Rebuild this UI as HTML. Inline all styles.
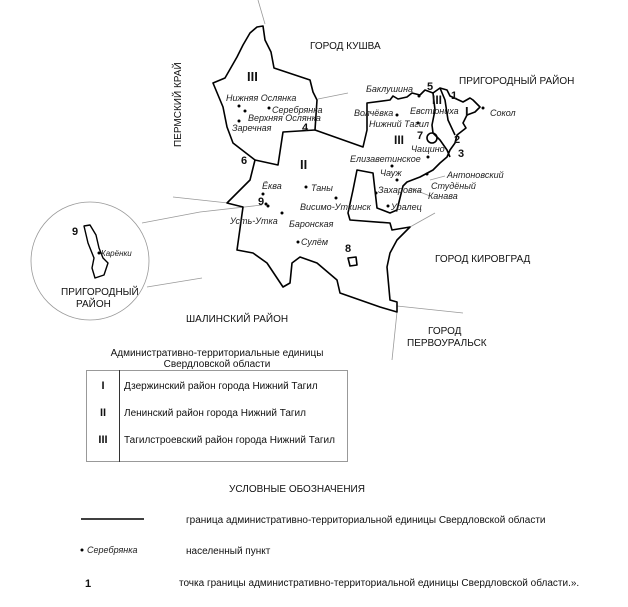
<!DOCTYPE html>
<html><head><meta charset="utf-8"><style>
html,body{margin:0;padding:0;background:#fff;}
svg{display:block;font-family:"Liberation Sans",sans-serif;}
.p{font-style:italic;font-size:9px;fill:#222;}
.r{font-size:10px;fill:#111;}
.b{font-weight:bold;font-size:11px;fill:#111;}
.l{font-size:10px;fill:#111;}
</style></head><body>
<svg width="628" height="607" viewBox="0 0 628 607">
<g stroke="#999" stroke-width="0.8" fill="none">
<line x1="258" y1="0" x2="265" y2="24"/>
<line x1="318" y1="99" x2="348" y2="93"/>
<line x1="410" y1="227" x2="435" y2="213"/>
<line x1="397" y1="306" x2="463" y2="313"/>
<line x1="397" y1="312" x2="392" y2="360"/>
<line x1="142" y1="223" x2="200" y2="212"/>
<line x1="200" y1="212" x2="262" y2="205"/>
<line x1="173" y1="197" x2="228" y2="203"/>
<line x1="147" y1="287" x2="202" y2="278"/>
<line x1="430" y1="180" x2="445" y2="176"/>
<line x1="410" y1="188" x2="430" y2="196"/>
<circle cx="90" cy="261" r="59"/>
</g>
<g stroke="#000" stroke-width="1.6" fill="none" stroke-linejoin="round">
<path d="M257,27 L263,26 L265,40 L271,52 L274,68 L310,80 L313,92 L317,100 L315,130 L363,147 L367,130 L367,103 L390,100 L393,96 L398,99 L407,97 L412,93 L420,95 L425,90 L433,93 L440,88 L447,90 L450,96 L463,102 L470,98 L473,100 L480,107 L475,112 L467,115 L463,123 L466,128 L457,135 L455,143 L450,150 L447,157 L440,163 L433,170 L420,177 L407,182 L403,186 L397,210 L390,213 L377,208 L373,173 L357,170 L353,190 L348,213 L350,220 L390,223 L392,230 L410,227 L397,240 L390,253 L387,267 L390,300 L397,302 L397,312 L380,307 L340,293 L337,280 L317,263 L300,257 L292,263 L290,283 L283,287 L267,263 L253,253 L237,250 L243,207 L227,203 L250,180 L255,160 L233,143 L227,127 L223,107 L213,83 L225,78 L237,57 L243,45 L250,33 Z"/>
<path d="M255,160 L278,165 L283,132 L315,130"/>
<path d="M433,93 L435,110 L432,125 L433,133 L440,140 L447,150 L450,157"/>
<path d="M440,88 L445,100 L448,120 L455,135"/>
<path d="M427,138 a5,5 0 1,0 10,0 a5,5 0 1,0 -10,0"/>
<path d="M348,258 L356,257 L357,265 L350,266 Z"/>
<path d="M84,226 L90,225 L96,235 L99,248 L103,258 L108,263 L104,275 L95,278 L92,268 L94,258 L88,243 Z" stroke-width="1.4"/>
</g>
<g fill="#000">
<circle cx="263" cy="194" r="1.5"/><circle cx="266" cy="204" r="1.5"/><circle cx="268" cy="206" r="1.5"/>
<circle cx="239" cy="106" r="1.5"/><circle cx="245" cy="111" r="1.5"/><circle cx="269" cy="108" r="1.5"/><circle cx="239" cy="121" r="1.5"/>
<circle cx="306" cy="187" r="1.5"/><circle cx="336" cy="198" r="1.5"/><circle cx="282" cy="213" r="1.5"/><circle cx="298" cy="242" r="1.5"/>
<circle cx="397" cy="115" r="1.5"/><circle cx="418" cy="123" r="1.5"/><circle cx="419" cy="96" r="1.5"/><circle cx="428" cy="157" r="1.5"/>
<circle cx="392" cy="166" r="1.5"/><circle cx="397" cy="180" r="1.5"/><circle cx="376" cy="193" r="1.5"/><circle cx="388" cy="206" r="1.5"/>
<circle cx="427" cy="174" r="1.5"/><circle cx="483" cy="108" r="1.5"/><circle cx="99" cy="253" r="1.5"/>
</g>
<g class="r">
<text x="310" y="49">ГОРОД КУШВА</text>
<text x="459" y="84">ПРИГОРОДНЫЙ РАЙОН</text>
<text x="435" y="262">ГОРОД КИРОВГРАД</text>
<text x="186" y="322">ШАЛИНСКИЙ РАЙОН</text>
<text x="428" y="334">ГОРОД</text>
<text x="407" y="346">ПЕРВОУРАЛЬСК</text>
<text x="61" y="295">ПРИГОРОДНЫЙ</text>
<text x="76" y="307">РАЙОН</text>
<text transform="translate(181,147) rotate(-90)">ПЕРМСКИЙ КРАЙ</text>
</g>
<g class="b">
<text x="247" y="81" font-size="13">III</text>
<text x="300" y="169" font-size="13">II</text>
<text x="465" y="116" font-size="13">I</text>
<text x="432" y="104" font-size="12">III</text>
<text x="394" y="144" font-size="12">III</text>
<text x="427" y="90">5</text><text x="451" y="99">1</text><text x="454" y="143">2</text><text x="458" y="157">3</text>
<text x="302" y="131">4</text><text x="241" y="164">6</text><text x="417" y="139">7</text><text x="345" y="252">8</text><text x="258" y="205">9</text>
<text x="72" y="235">9</text>
</g>
<g class="p">
<text x="226" y="101">Нижняя Ослянка</text>
<text x="272" y="113">Серебрянка</text>
<text x="248" y="121">Верхняя Ослянка</text>
<text x="232" y="131">Заречная</text>
<text x="366" y="92">Баклушина</text>
<text x="354" y="116">Волчёвка</text>
<text x="410" y="114">Евстюниха</text>
<text x="369" y="127">Нижний Тагил</text>
<text x="490" y="116">Сокол</text>
<text x="411" y="152">Чащино</text>
<text x="350" y="162">Елизаветинское</text>
<text x="447" y="178">Антоновский</text>
<text x="380" y="176">Чауж</text>
<text x="431" y="189">Студёный</text>
<text x="378" y="193">Захаровка</text>
<text x="428" y="199">Канава</text>
<text x="391" y="210">Уралец</text>
<text x="262" y="189">Ёква</text>
<text x="311" y="191">Таны</text>
<text x="300" y="210">Висимо-Уткинск</text>
<text x="230" y="224">Усть-Утка</text>
<text x="289" y="227">Баронская</text>
<text x="301" y="245">Сулём</text>
<text x="101" y="256" font-size="8">Карёнки</text>
</g>
<g class="l">
<text x="217" y="356" text-anchor="middle">Административно-территориальные единицы</text>
<text x="217" y="367" text-anchor="middle">Свердловской области</text>
</g>
<rect x="86.5" y="370.5" width="261" height="91" fill="none" stroke="#999" stroke-width="1"/>
<line x1="119.5" y1="370" x2="119.5" y2="462" stroke="#333" stroke-width="1"/>
<g class="b" font-size="11">
<text x="103" y="389" text-anchor="middle">I</text>
<text x="103" y="416" text-anchor="middle">II</text>
<text x="103" y="443" text-anchor="middle">III</text>
</g>
<g class="l">
<text x="124" y="389">Дзержинский район города Нижний Тагил</text>
<text x="124" y="416">Ленинский район города Нижний Тагил</text>
<text x="124" y="443">Тагилстроевский район города Нижний Тагил</text>
<text x="297" y="492" text-anchor="middle">УСЛОВНЫЕ ОБОЗНАЧЕНИЯ</text>
<text x="186" y="523">граница административно-территориальной единицы Свердловской области</text>
<text x="186" y="554">населенный пункт</text>
<text x="179" y="586">точка границы административно-территориальной единицы Свердловской области.».</text>
</g>
<line x1="81" y1="519" x2="144" y2="519" stroke="#000" stroke-width="1.5"/>
<circle cx="82" cy="550" r="1.5" fill="#000"/>
<text x="87" y="553" class="p">Серебрянка</text>
<text x="85" y="587" class="b" font-size="12">1</text>
</svg>
</body></html>
